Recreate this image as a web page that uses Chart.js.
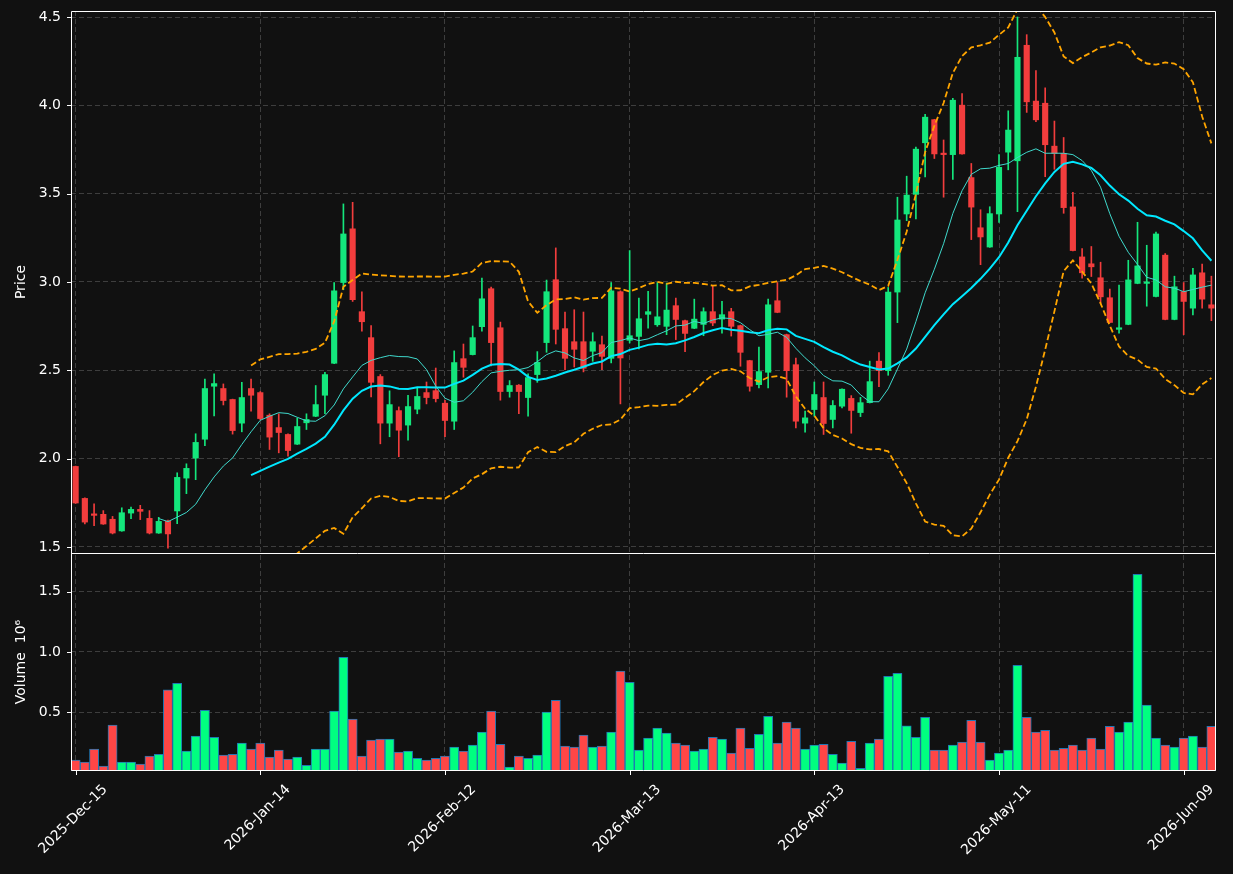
<!DOCTYPE html>
<html><head><meta charset="utf-8">
<script src="https://cdn.jsdelivr.net/npm/chart.js@4.4.1/dist/chart.umd.min.js"></script>
<style>html,body{margin:0;padding:0;background:#111111;overflow:hidden;}</style>
</head><body>
<canvas id="c" width="1233" height="874"></canvas>
<script>
const tickIndex = [0, 20, 40, 60, 80, 100, 120];
const tickLabels = ['2025-Dec-15','2026-Jan-14','2026-Feb-12','2026-Mar-13','2026-Apr-13','2026-May-11','2026-Jun-09'];

const openP = [1.956,1.775,1.687,1.685,1.657,1.591,1.692,1.713,1.662,1.579,
1.647,1.704,1.890,2.003,2.110,2.410,2.397,2.335,2.201,2.397,
2.374,2.246,2.176,2.137,2.082,2.203,2.240,2.359,2.540,2.997,
3.301,2.832,2.685,2.465,2.201,2.272,2.190,2.280,2.374,2.385,
2.314,2.212,2.566,2.589,2.747,2.962,2.741,2.380,2.416,2.346,
2.476,2.657,3.013,2.736,2.662,2.662,2.608,2.645,2.568,2.945,
2.670,2.692,2.817,2.758,2.749,2.866,2.781,2.738,2.760,2.832,
2.790,2.832,2.753,2.555,2.419,2.489,2.894,2.702,2.532,2.201,
2.278,2.346,2.222,2.297,2.341,2.261,2.317,2.552,2.498,2.943,
3.385,3.496,3.788,3.919,3.729,3.721,4.001,3.591,3.307,3.198,
3.385,3.735,3.686,4.340,4.024,4.012,3.769,3.728,3.425,3.142,
3.103,3.024,2.911,2.732,2.760,2.992,2.992,2.918,3.152,2.788,
2.946,2.852,3.052,2.871];
const highP = [1.958,1.778,1.745,1.706,1.673,1.722,1.726,1.736,1.706,1.668,
1.652,1.920,1.971,2.141,2.451,2.480,2.423,2.337,2.432,2.451,
2.380,2.254,2.254,2.140,2.229,2.254,2.414,2.489,2.997,3.442,
3.451,2.945,2.753,2.476,2.384,2.293,2.359,2.399,2.434,2.513,
2.330,2.610,2.649,2.751,3.022,2.971,2.773,2.442,2.420,2.480,
2.606,3.011,3.193,2.830,2.843,2.830,2.713,2.694,2.997,2.950,
3.178,2.909,2.947,2.997,2.994,2.909,2.785,2.903,2.854,2.979,
2.890,2.851,2.756,2.557,2.632,2.903,2.997,2.705,2.570,2.269,
2.434,2.434,2.329,2.395,2.357,2.347,2.552,2.601,2.969,3.480,
3.599,3.764,3.949,3.921,3.804,4.039,4.067,3.671,3.409,3.426,
3.721,3.969,4.500,4.400,4.197,4.099,3.911,3.818,3.508,3.189,
3.201,3.112,2.960,2.982,3.123,3.338,3.208,3.282,3.161,3.033,
2.997,3.078,3.101,3.033];
const lowP = [1.747,1.630,1.621,1.628,1.574,1.589,1.660,1.655,1.574,1.577,
1.493,1.632,1.802,1.881,2.073,2.242,2.304,2.139,2.152,2.269,
2.220,2.052,2.033,2.014,2.080,2.165,2.238,2.255,2.538,2.956,
2.890,2.721,2.350,2.084,2.124,2.011,2.105,2.254,2.310,2.321,
2.124,2.165,2.461,2.587,2.721,2.525,2.331,2.348,2.254,2.240,
2.432,2.602,2.649,2.504,2.519,2.491,2.551,2.504,2.542,2.310,
2.655,2.621,2.738,2.749,2.702,2.674,2.606,2.736,2.696,2.753,
2.711,2.694,2.523,2.382,2.400,2.400,2.826,2.348,2.174,2.150,
2.240,2.137,2.174,2.287,2.144,2.238,2.315,2.407,2.472,2.770,
3.347,3.357,3.595,3.699,3.480,3.580,3.723,3.240,3.098,3.196,
3.337,3.635,3.398,3.960,3.907,3.596,3.638,3.389,3.176,3.022,
3.031,2.880,2.769,2.711,2.758,2.990,2.863,2.916,2.786,2.786,
2.702,2.814,2.852,2.781];
const closeP = [1.749,1.641,1.679,1.630,1.579,1.694,1.713,1.702,1.579,1.645,
1.574,1.894,1.945,2.092,2.397,2.425,2.329,2.159,2.346,2.359,
2.227,2.122,2.148,2.046,2.182,2.222,2.306,2.476,2.950,3.272,
2.900,2.775,2.432,2.201,2.306,2.161,2.295,2.352,2.346,2.340,
2.216,2.544,2.517,2.685,2.905,2.657,2.380,2.414,2.380,2.459,
2.545,2.945,2.732,2.568,2.619,2.512,2.662,2.579,2.950,2.570,
2.696,2.792,2.832,2.803,2.841,2.788,2.709,2.790,2.832,2.768,
2.815,2.749,2.602,2.410,2.493,2.871,2.828,2.498,2.212,2.231,
2.363,2.199,2.301,2.393,2.273,2.317,2.436,2.498,2.943,3.351,
3.492,3.752,3.933,3.725,3.721,4.029,3.725,3.424,3.255,3.387,
3.649,3.860,4.272,4.020,3.918,3.777,3.728,3.421,3.178,3.052,
3.086,2.916,2.771,2.741,3.012,3.091,2.999,3.272,2.788,2.973,
2.890,3.040,2.903,2.852];
const volume = [0.102,0.085,0.193,0.052,0.392,0.085,0.085,0.069,0.135,0.151,
0.685,0.740,0.177,0.301,0.516,0.292,0.143,0.151,0.243,0.193,
0.243,0.127,0.185,0.110,0.127,0.060,0.193,0.193,0.508,0.955,
0.442,0.135,0.268,0.276,0.276,0.168,0.177,0.118,0.102,0.118,
0.135,0.210,0.177,0.226,0.334,0.508,0.234,0.044,0.135,0.118,
0.143,0.500,0.599,0.218,0.210,0.309,0.210,0.218,0.334,0.840,
0.748,0.185,0.284,0.367,0.326,0.243,0.226,0.177,0.193,0.292,
0.276,0.160,0.367,0.201,0.317,0.466,0.243,0.417,0.367,0.193,
0.226,0.234,0.151,0.077,0.259,0.035,0.243,0.276,0.798,0.823,
0.387,0.292,0.458,0.185,0.185,0.226,0.251,0.433,0.251,0.102,
0.160,0.185,0.889,0.458,0.334,0.350,0.185,0.201,0.226,0.185,
0.284,0.193,0.383,0.334,0.417,1.644,0.558,0.284,0.226,0.210,
0.284,0.301,0.210,0.383];

// rolling indicators derived from the closes
function sma(arr, n) {
  return arr.map((_, i) => {
    if (i < n - 1) return null;
    let s = 0; for (let k = i - n + 1; k <= i; k++) s += arr[k];
    return s / n;
  });
}
function band(arr, n, k, sign) {
  const m = sma(arr, n);
  return arr.map((_, i) => {
    if (m[i] === null) return null;
    let v = 0; for (let j = i - n + 1; j <= i; j++) v += (arr[j] - m[i]) ** 2;
    return m[i] + sign * k * Math.sqrt(v / n);
  });
}
const ma10 = sma(closeP, 10);
const ma20 = sma(closeP, 20);
const bbUp = band(closeP, 20, 2, 1);
const bbDn = band(closeP, 20, 2, -1);

const idx = closeP.map((_, i) => i);
const up = idx.map(i => closeP[i] >= openP[i]);
const candleCol = up.map(u => u ? '#14e67c' : '#f23d3d');
const volCol = up.map(u => u ? '#00ff80' : '#ff4646');
const pts = arr => arr.map((v, i) => ({x: i, y: v}));

const FONT = 'DejaVu Sans';
Chart.defaults.font.family = FONT;
Chart.defaults.font.size = 14;
Chart.defaults.color = '#ffffff';

const GRID = '#3e3e3e';

const bgPlugin = {id: 'bg', beforeDraw(chart) {
  const c = chart.ctx; c.save(); c.fillStyle = '#111111'; c.fillRect(0, 0, chart.width, chart.height); c.restore();
}};
const clipPlugin = {id: 'clipPrice',
  beforeDatasetDraw(chart, args) {
    const ds = chart.data.datasets[args.index];
    if (ds.yAxisID !== 'y') return;
    const s = chart.scales.y, a = chart.chartArea, c = chart.ctx;
    c.save(); c.beginPath(); c.rect(a.left, s.top, a.right - a.left, s.bottom - s.top); c.clip();
  },
  afterDatasetDraw(chart, args) {
    const ds = chart.data.datasets[args.index];
    if (ds.yAxisID !== 'y') return;
    chart.ctx.restore();
  }
};
const decorPlugin = {id: 'decor', afterDraw(chart) {
  const c = chart.ctx, a = chart.chartArea, y = chart.scales.y, yv = chart.scales.yv, x = chart.scales.x;
  c.save();
  c.strokeStyle = '#ffffff'; c.lineWidth = 1;
  const L = Math.round(a.left) + 0.5, R = Math.round(a.right) - 0.5;
  const T = Math.round(y.top) + 0.5, M = Math.round(y.bottom) + 0.5, B = Math.round(yv.bottom) - 0.5;
  c.beginPath();
  c.moveTo(L, T); c.lineTo(R, T); c.lineTo(R, B); c.lineTo(L, B); c.closePath();
  c.moveTo(L, M); c.lineTo(R, M);
  c.stroke();
  // tick marks
  c.beginPath();
  [y, yv].forEach(s => s.ticks.forEach(t => {
    const py = Math.round(s.getPixelForValue(t.value)) + 0.5;
    c.moveTo(L - 4.5, py); c.lineTo(L, py);
  }));
  tickIndex.forEach(v => {
    const px = Math.round(x.getPixelForValue(v)) + 0.5;
    c.moveTo(px, B); c.lineTo(px, B + 4.5);
  });
  c.stroke();
  // x labels rotated 45deg, centered on tick
  c.fillStyle = '#ffffff';
  c.font = '14px "' + FONT + '"';
  c.textAlign = 'center'; c.textBaseline = 'middle';
  tickIndex.forEach((v, k) => {
    const px = x.getPixelForValue(v) - 2.5;
    const w = c.measureText(tickLabels[k]).width, h = 14;
    const cy = B + 12 + (w + h) * Math.SQRT1_2 / 2;
    c.save(); c.translate(px, cy); c.rotate(-Math.PI / 4); c.fillText(tickLabels[k], 0, 0); c.restore();
  });
  // axis titles
  c.save(); c.translate(21, (y.top + y.bottom) / 2); c.rotate(-Math.PI / 2); c.fillText('Price', 0, 0); c.restore();
  c.save(); c.translate(21, (yv.top + yv.bottom) / 2); c.rotate(-Math.PI / 2); c.fillText('Volume  10\u2076', 0, 0); c.restore();
  c.restore();
}};

const yGrid = {color: GRID, lineWidth: 1, drawTicks: false};
const yBorder = {display: false, dash: [5, 3]};
function fixY(s) { s.width = 71; s.paddingTop = 0; s.paddingBottom = 0; }

new Chart(document.getElementById('c'), {
  type: 'bar',
  data: {datasets: [
    {type: 'line', label: 'MA10', yAxisID: 'y', data: pts(ma10), borderColor: '#3fd9cc', borderWidth: 1, pointRadius: 0, tension: 0, fill: false, order: 0},
    {type: 'line', label: 'MA20', yAxisID: 'y', data: pts(ma20), borderColor: '#00e8ff', borderWidth: 2, pointRadius: 0, tension: 0, fill: false, order: 0},
    {type: 'line', label: 'BB up', yAxisID: 'y', data: pts(bbUp), borderColor: '#ffa500', borderWidth: 1.8, borderDash: [6, 3], pointRadius: 0, tension: 0, fill: false, order: 0},
    {type: 'line', label: 'BB dn', yAxisID: 'y', data: pts(bbDn), borderColor: '#ffa500', borderWidth: 1.8, borderDash: [6, 3], pointRadius: 0, tension: 0, fill: false, order: 0},
    {type: 'bar', label: 'body', yAxisID: 'y', data: idx.map(i => ({x: i, y: [openP[i], closeP[i]]})), backgroundColor: candleCol, barThickness: 5.5, grouped: false, minBarLength: 1.5, order: 1},
    {type: 'bar', label: 'wick', yAxisID: 'y', data: idx.map(i => ({x: i, y: [lowP[i], highP[i]]})), backgroundColor: candleCol, barThickness: 1, grouped: false, order: 2},
    {type: 'bar', label: 'Volume', yAxisID: 'yv', data: idx.map(i => ({x: i, y: volume[i]})), backgroundColor: volCol, borderColor: '#1f77b4', borderWidth: 1, borderSkipped: false, barThickness: 9.2, grouped: false, order: 3}
  ]},
  options: {
    responsive: false, animation: false, events: [],
    layout: {padding: {top: 11, right: 17, left: 0, bottom: 0}},
    plugins: {legend: {display: false}, tooltip: {enabled: false}, title: {display: false}},
    scales: {
      x: {type: 'linear', min: -0.5, max: 123.5, offset: false,
          afterBuildTicks(s) { s.ticks = tickIndex.map(v => ({value: v})); },
          ticks: {display: false},
          grid: {color: GRID, lineWidth: 1, drawTicks: false, offset: false},
          border: {display: false, dash: [5, 3]},
          afterFit(s) { s.height = 103; s.paddingLeft = 0; s.paddingRight = 0; }},
      y: {type: 'linear', position: 'left', stack: 'panels', stackWeight: 542, weight: 2,
          min: 1.466, max: 4.534,
          ticks: {stepSize: 0.5, includeBounds: false, padding: 10, color: '#ffffff', callback: v => v.toFixed(1)},
          grid: yGrid, border: yBorder,
          afterFit: fixY},
      yv: {type: 'linear', position: 'left', stack: 'panels', stackWeight: 218, weight: 1,
          min: 0.012, max: 1.82,
          ticks: {stepSize: 0.5, includeBounds: false, padding: 10, color: '#ffffff', callback: v => v.toFixed(1)},
          grid: yGrid, border: yBorder,
          afterFit: fixY}
    }
  },
  plugins: [bgPlugin, clipPlugin, decorPlugin]
});
</script>
</body></html>
